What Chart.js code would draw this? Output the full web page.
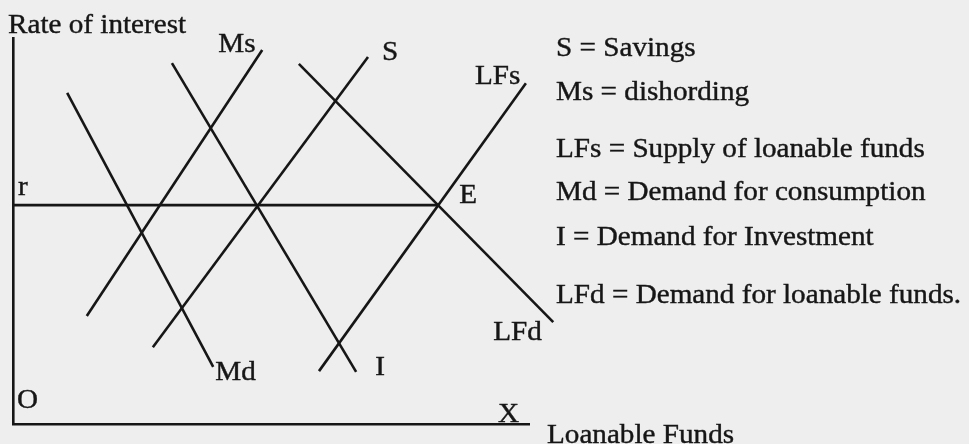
<!DOCTYPE html>
<html>
<head>
<meta charset="utf-8">
<script src="https://cdn.jsdelivr.net/npm/chart.js@4"></script>
<style>
  html, body { margin: 0; padding: 0; background: #eeeeee; }
  #wrap { width: 969px; height: 444px; }
</style>
</head>
<body>
<div id="wrap"><canvas id="chart" width="969" height="444"></canvas></div>
<script>
// loanable funds (x) vs rate of interest (y), both on a 0-100 scale
const mdX = [10.5, 38.8]
const mdY = [85.8, 14.8]
const msX = [48.3, 14.3]
const msY = [96.9, 28.0]
const invX = [30.8, 66.5]
const invY = [93.5, 13.5]
const savX = [68.8, 27.1]
const savY = [95.1, 19.9]
const lfdX = [55.4, 104.7]
const lfdY = [93.3, 26.4]
const lfsX = [99.4, 59.3]
const lfsY = [88.3, 13.7]
const rateX = [0, 82.4]
const rateY = [56.7, 56.7]

const legendLines = [
  'S = Savings',
  'Ms = dishording',
  'LFs = Supply of loanable funds',
  'Md = Demand for consumption',
  'I = Demand for Investment',
  'LFd = Demand for loanable funds.',
]

const ink = '#161616'
const toPoints = (xs, ys) => xs.map((x, i) => ({ x, y: ys[i] }))

const line = (label, xs, ys) => ({
  label,
  data: toPoints(xs, ys),
  showLine: true,
  borderColor: ink,
  borderWidth: 2.6,
  pointRadius: 0,
  clip: false,
})

const serif = '"Liberation Serif", "Times New Roman", serif'

function drawText(ctx, text, x, y) {
  ctx.save()
  ctx.translate(x, y)
  ctx.scale(1.08, 1)
  ctx.fillText(text, 0, 0)
  // a hair of stroke to get the heavier scanned look
  ctx.lineWidth = 0.4
  ctx.strokeText(text, 0, 0)
  ctx.restore()
}

const labelsPlugin = {
  id: 'diagramLabels',
  afterDraw(chart) {
    const { ctx, scales: { x, y } } = chart
    const px = (v) => x.getPixelForValue(v)
    const py = (v) => y.getPixelForValue(v)

    ctx.save()
    ctx.fillStyle = '#161616'
    ctx.strokeStyle = '#161616'
    ctx.textBaseline = 'alphabetic'
    ctx.font = `27px ${serif}`

    // curve labels, placed off the curve ends
    drawText(ctx, 'Ms', px(msX[0]) - 44, py(msY[0]) + 2)
    drawText(ctx, 'S', px(savX[0]) + 14, py(savY[0]) + 3)
    drawText(ctx, 'LFs', px(lfsX[0]) - 51, py(lfsY[0]) + 1)
    drawText(ctx, 'LFd', px(lfdX[1]) - 60, py(lfdY[1]) + 18)
    drawText(ctx, 'I', px(invX[1]) + 19, py(invY[1]) + 3)
    drawText(ctx, 'Md', px(mdX[1]) + 2, py(mdY[1]) + 13)
    drawText(ctx, 'E', px(rateX[1]) + 21, py(rateY[1]) - 2)
    drawText(ctx, 'r', x.left + 5, py(rateY[0]) - 10)
    drawText(ctx, 'O', x.left + 4, y.bottom - 16)
    drawText(ctx, 'X', x.right - 31, y.bottom - 2)
    drawText(ctx, 'Loanable Funds', x.right + 18, y.bottom + 19)
    drawText(ctx, 'Rate of interest', x.left - 5, y.top - 5)

    // key on the right
    const baselines = [56, 100, 157, 200, 245, 303]
    legendLines.forEach((t, i) => drawText(ctx, t, 556, baselines[i]))
    ctx.restore()
  },
}

const axis = (min, max) => ({
  type: 'linear',
  min,
  max,
  ticks: { display: false },
  grid: { display: false, drawTicks: false },
  border: { display: true, color: ink, width: 2.6 },
  title: { display: false },
})

new Chart(document.getElementById('chart'), {
  type: 'scatter',
  data: {
    datasets: [
      line('Md', mdX, mdY),
      line('Ms', msX, msY),
      line('I', invX, invY),
      line('S', savX, savY),
      line('LFd', lfdX, lfdY),
      line('LFs', lfsX, lfsY),
      line('r', rateX, rateY),
    ],
  },
  options: {
    responsive: false,
    animation: false,
    devicePixelRatio: 1,
    layout: { padding: { left: 13, top: 38, right: 440, bottom: 20 } },
    plugins: {
      legend: { display: false },
      tooltip: { enabled: false },
    },
    scales: {
      x: axis(0, 100),
      y: axis(0, 100),
    },
  },
  plugins: [labelsPlugin],
})
</script>
</body>
</html>
